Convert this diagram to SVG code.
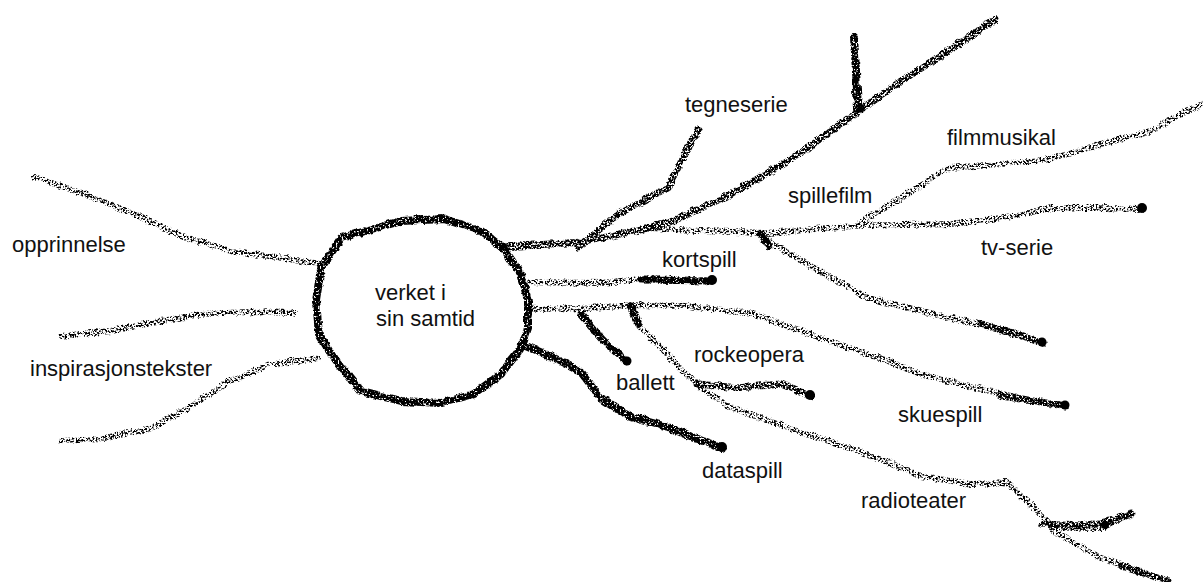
<svg xmlns="http://www.w3.org/2000/svg" width="1203" height="582" viewBox="0 0 1203 582">
<style>
.lbl{font-family:"Liberation Sans",Arial,sans-serif;font-size:22px;fill:#111}
.s{fill:none;stroke:#000;stroke-linecap:round;stroke-linejoin:round}
.thick{stroke-width:8}
.mid{stroke-width:7}
.thin{stroke-width:6}
.dot{fill:#000}
</style>
<defs>
<filter id="dense" filterUnits="userSpaceOnUse" x="0" y="0" width="1203" height="582">
<feTurbulence type="turbulence" baseFrequency="0.08" numOctaves="2" seed="2" result="w"/>
<feDisplacementMap in="SourceGraphic" in2="w" scale="4" xChannelSelector="R" yChannelSelector="G" result="d"/>
<feTurbulence type="fractalNoise" baseFrequency="0.55" numOctaves="2" seed="4" result="n"/>
<feColorMatrix in="n" type="matrix" values="0 0 0 0 0 0 0 0 0 0 0 0 0 0 0 7 0 0 0 -2.0" result="m"/>
<feComposite in="d" in2="m" operator="in"/>
</filter>
<filter id="medium" filterUnits="userSpaceOnUse" x="0" y="0" width="1203" height="582">
<feTurbulence type="turbulence" baseFrequency="0.08" numOctaves="2" seed="5" result="w"/>
<feDisplacementMap in="SourceGraphic" in2="w" scale="4" xChannelSelector="R" yChannelSelector="G" result="d"/>
<feTurbulence type="fractalNoise" baseFrequency="0.55" numOctaves="2" seed="7" result="n"/>
<feColorMatrix in="n" type="matrix" values="0 0 0 0 0 0 0 0 0 0 0 0 0 0 0 7 0 0 0 -2.6" result="m"/>
<feComposite in="d" in2="m" operator="in"/>
</filter>
<filter id="sparse" filterUnits="userSpaceOnUse" x="0" y="0" width="1203" height="582">
<feTurbulence type="turbulence" baseFrequency="0.08" numOctaves="2" seed="9" result="w"/>
<feDisplacementMap in="SourceGraphic" in2="w" scale="4" xChannelSelector="R" yChannelSelector="G" result="d"/>
<feTurbulence type="fractalNoise" baseFrequency="0.55" numOctaves="2" seed="11" result="n"/>
<feColorMatrix in="n" type="matrix" values="0 0 0 0 0 0 0 0 0 0 0 0 0 0 0 7 0 0 0 -3.2" result="m"/>
<feComposite in="d" in2="m" operator="in"/>
</filter>
</defs>
<rect width="1203" height="582" fill="#fff"/>
<g id="connectors">
<g filter="url(#sparse)">
<path class="s thin" d="M33 176 L83 193 L133 213 L183 236 L233 251 L283 257 L318 263"/>
<path class="s thin" d="M60 335 L110 330 L150 322 L200 313 L250 311 L293 312"/>
<path class="s thin" d="M60 440 L100 438 L150 427 L187 407 L227 381 L267 364 L317 357"/>
<path class="s thin" d="M650 228 L700 230 L767 232 L850 225 L950 223 L1000 217 L1050 207 L1100 207 L1142 208"/>
<path class="s thin" d="M857 223 L900 197 L947 167 L1000 163 L1050 158 L1100 143 L1150 130 L1180 113 L1203 103"/>
<path class="s thin" d="M527 308 L587 307 L637 304 L687 305 L753 313 L820 337 L887 360 L920 373 L980 388 L1030 400 L1065 405"/>
<path class="s thin" d="M637 323 L670 357 L697 385 L727 405 L787 427 L853 448 L920 475 L970 483 L1007 482 L1033 507 L1053 527 L1100 527 L1130 513"/>
<path class="s thin" d="M1053 530 L1100 557 L1167 580"/>
<path class="s thin" d="M763 237 L800 260 L867 297 L933 313 L1000 328 L1042 342"/>
<path class="s thin" d="M520 281 L600 282 L650 277 L712 280"/>
</g>
<g filter="url(#medium)">
<path class="s mid" d="M503 246 L533 244 L583 241 L633 230 L667 222 L717 200 L767 172 L817 140 L857 110 L900 80 L950 48 L995 18"/>
<path class="s mid" d="M577 246 L617 213 L667 187 L680 160 L697 128"/>
<path class="s mid" d="M697 383 L737 387 L780 383 L810 395"/>
<path class="s mid" d="M1040 523 L1080 525 L1110 520 L1130 513"/>
<path class="s mid" d="M980 323 L1042 342"/>
<path class="s mid" d="M1000 395 L1065 405"/>
<path class="s mid" d="M1120 565 L1167 580"/>
</g>
<g filter="url(#dense)">
<path class="s thick" d="M853 36 L855 70 L857 108"/>
<path class="s thick" d="M520 343 L553 357 L580 371 L600 397 L630 416 L670 427 L693 437 L722 447"/>
<path class="s mid" d="M580 313 L603 340 L627 361"/>
<path class="s thick" d="M630 306 L637 323"/>
<path class="s thick" d="M760 233 L767 244"/>
<path class="s mid" d="M640 279 L712 280"/>
</g>
<circle class="dot" cx="712" cy="280" r="5"/>
<circle class="dot" cx="1142" cy="208" r="5"/>
<circle class="dot" cx="1042" cy="342" r="4.5"/>
<circle class="dot" cx="1065" cy="405" r="4.5"/>
<circle class="dot" cx="627" cy="361" r="4.5"/>
<circle class="dot" cx="810" cy="395" r="5"/>
<circle class="dot" cx="722" cy="447" r="5"/>
<circle class="dot" cx="1105" cy="525" r="4"/>
</g>
<g id="center" filter="url(#dense)">
<path class="s thick" d="M340 237 L400 220 L443 218 L480 230 L503 248 L520 273 L527 300 L527 327 L520 347 L500 373 L473 393 L440 402 L400 400 L360 390 L330 353 L318 333 L315 300 L320 267 Z"/>
</g>
<g id="node-center-text">
<text class="lbl" x="375" y="300">verket i</text>
<text class="lbl" x="376" y="326">sin samtid</text>
</g>
<g id="node-opprinnelse"><text class="lbl" x="12" y="252">opprinnelse</text></g>
<g id="node-inspirasjonstekster"><text class="lbl" x="30" y="376">inspirasjonstekster</text></g>
<g id="node-tegneserie"><text class="lbl" x="685" y="112">tegneserie</text></g>
<g id="node-kortspill"><text class="lbl" x="662" y="267">kortspill</text></g>
<g id="node-spillefilm"><text class="lbl" x="788" y="203">spillefilm</text></g>
<g id="node-filmmusikal"><text class="lbl" x="947" y="145">filmmusikal</text></g>
<g id="node-tv-serie"><text class="lbl" x="981" y="255">tv-serie</text></g>
<g id="node-rockeopera"><text class="lbl" x="694" y="362">rockeopera</text></g>
<g id="node-ballett"><text class="lbl" x="616" y="390">ballett</text></g>
<g id="node-dataspill"><text class="lbl" x="702" y="478">dataspill</text></g>
<g id="node-skuespill"><text class="lbl" x="898" y="422">skuespill</text></g>
<g id="node-radioteater"><text class="lbl" x="861" y="508">radioteater</text></g>
</svg>
